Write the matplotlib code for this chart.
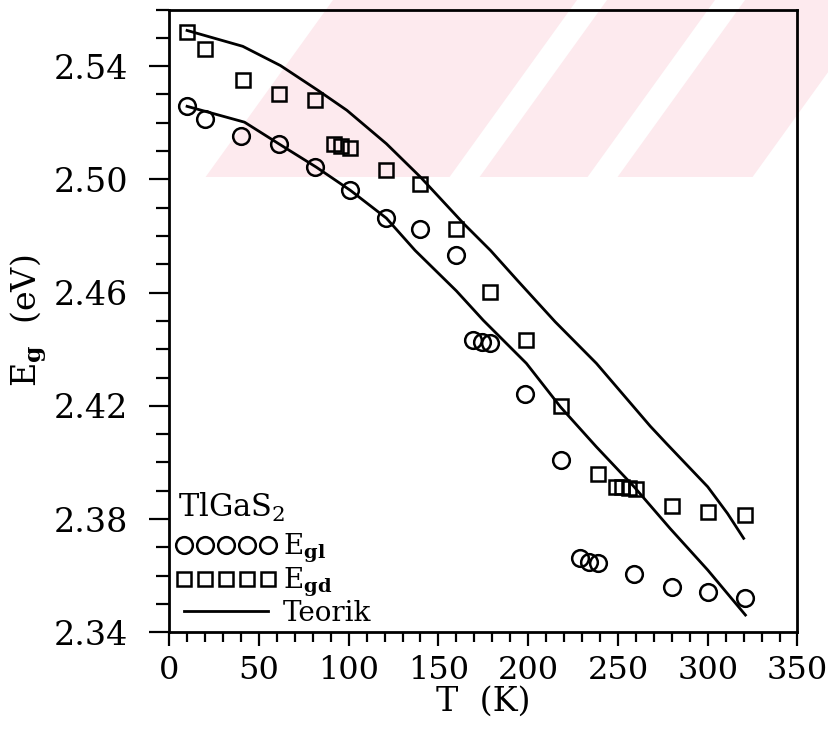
import numpy as np
import matplotlib
matplotlib.use('Agg')
import matplotlib.pyplot as plt
from matplotlib.patches import Polygon
from matplotlib.ticker import MultipleLocator, FixedLocator, FormatStrFormatter

plt.rcParams['font.family'] = ['DejaVu Serif']
plt.rcParams['mathtext.fontset'] = 'dejavuserif'

# E_gl (circles)
T_gl = [10, 20, 40, 61, 81, 101, 121, 140, 160, 169, 174, 179, 198, 218,
        229, 234, 239, 259, 280, 300, 321]
E_gl = [2.5258, 2.5214, 2.5154, 2.5124, 2.5043, 2.4961, 2.4863, 2.4823,
        2.4732, 2.4432, 2.4424, 2.4422, 2.4241, 2.4008, 2.3661, 2.3649,
        2.3644, 2.3605, 2.3561, 2.3543, 2.3522]

# E_gd (squares)
T_gd = [10, 20, 41, 61, 81, 92, 96, 101, 121, 140, 160, 179, 199, 218,
        239, 249, 252, 256, 260, 280, 300, 321]
E_gd = [2.5520, 2.5461, 2.5352, 2.5303, 2.5281, 2.5124, 2.5117, 2.5112,
        2.5034, 2.4982, 2.4823, 2.4602, 2.4432, 2.4199, 2.3959, 2.3915,
        2.3913, 2.3911, 2.3908, 2.3846, 2.3826, 2.3814]

# Teorik curves
T_th_gd = [10, 41, 62, 83, 99, 121, 140, 164, 179, 194, 215, 238, 258,
           268, 277, 300, 311, 320]
E_th_gd = [2.5526, 2.5470, 2.5402, 2.5314, 2.5244, 2.5126, 2.5008, 2.4844,
           2.4749, 2.4643, 2.4497, 2.4350, 2.4202, 2.4128, 2.4067, 2.3914,
           2.3820, 2.3732]
T_th_gl = [10, 42, 61, 82, 101, 121, 137, 160, 175, 199, 218, 238, 259,
           279, 300, 321]
E_th_gl = [2.5258, 2.5202, 2.5126, 2.5043, 2.4961, 2.4863, 2.4749, 2.4606,
           2.4502, 2.4350, 2.4196, 2.4055, 2.3914, 2.3767, 2.3620, 2.3461]

fig = plt.figure(figsize=(8.29, 7.31), dpi=100)

# faint pink watermark stripes at the top (scan artifact)
W, H = 829.0, 731.0
ybot = 177.0
shift = 0.72 * ybot
for x0, x1 in [(333, 577), (607, 715), (745, 880)]:
    pts = [(x0, 0), (x1, 0), (x1 - shift, ybot), (x0 - shift, ybot)]
    pts = [(max(px, 182) / W, 1 - py / H) for px, py in pts]
    fig.patches.append(Polygon(pts, closed=True, transform=fig.transFigure,
                               facecolor='#fdeaee', edgecolor='none', zorder=0))

ax = fig.add_axes([0.204, 0.135, 0.758, 0.852])
ax.set_zorder(2)
ax.patch.set_alpha(0)

ax.plot(T_th_gd, E_th_gd, color='black', lw=2.0, label='Teorik')
ax.plot(T_th_gl, E_th_gl, color='black', lw=2.0)
ax.plot(T_gl, E_gl, 'o', ms=12, mfc='none', mec='black', mew=1.8,
        label=r'E$_{\mathbf{gl}}$')
ax.plot(T_gd, E_gd, 's', ms=10, mfc='none', mec='black', mew=1.8,
        label=r'E$_{\mathbf{gd}}$')

ax.set_xlim(0, 350)
ax.set_ylim(2.34, 2.56)
ax.xaxis.set_major_locator(MultipleLocator(50))
ax.xaxis.set_minor_locator(MultipleLocator(10))
ax.yaxis.set_major_locator(FixedLocator([2.34, 2.38, 2.42, 2.46, 2.50, 2.54]))
ax.yaxis.set_minor_locator(MultipleLocator(0.01))
ax.yaxis.set_major_formatter(FormatStrFormatter('%.2f'))

ax.tick_params(which='both', direction='out', top=False, right=False,
               width=1.6)
ax.tick_params(axis='x', which='major', length=10, pad=6, labelsize=23)
ax.tick_params(axis='x', which='minor', length=7)
ax.tick_params(axis='y', which='major', length=14.5, pad=15, labelsize=24)
ax.tick_params(axis='y', which='minor', length=9.5)
for s in ax.spines.values():
    s.set_linewidth(2.0)

ax.set_xlabel('T  (K)', fontsize=24, labelpad=0)
ax.set_ylabel(r'E$_{\mathbf{g}}$  (eV)', fontsize=24, labelpad=3)

ax.text(0.014, 0.201, r'TlGaS$_2$', transform=ax.transAxes, fontsize=22,
        ha='left', va='center')

h, l = ax.get_legend_handles_labels()
order = [1, 2, 0]
leg = ax.legend([h[i] for i in order], [l[i] for i in order],
                fontsize=20, loc='lower left', bbox_to_anchor=(-0.02, -0.022),
                frameon=False, numpoints=5, handlelength=3.6,
                handletextpad=0.25, labelspacing=0.02, borderpad=0.2)

fig.savefig('out.png', dpi=100)
